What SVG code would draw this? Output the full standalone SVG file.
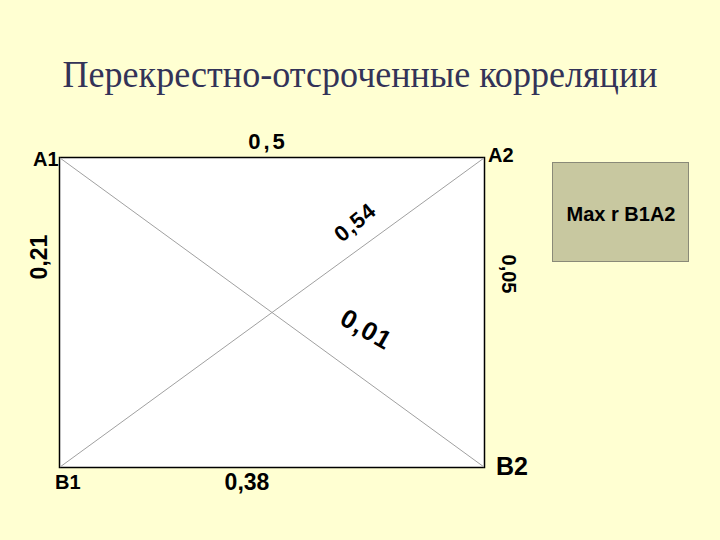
<svg xmlns="http://www.w3.org/2000/svg" width="720" height="540" viewBox="0 0 720 540">
<style>
.lbl{font-family:"Liberation Sans",Arial,sans-serif;font-weight:bold;fill:#000}
.diag{stroke:#a0a0a0;stroke-width:1;fill:none}
</style>
<rect x="0" y="0" width="720" height="540" fill="#ffffd2"/>
<text x="360" y="87" text-anchor="middle" font-family="Liberation Serif,Times New Roman,serif" font-size="37" textLength="595" lengthAdjust="spacingAndGlyphs" fill="#333358">Перекрестно-отсроченные корреляции</text>
<g id="frame">
<rect x="59.5" y="157.5" width="425" height="310" fill="#ffffff" stroke="#000" stroke-width="1.5"/>
</g>
<g id="connectors">
<line class="diag" x1="60" y1="158" x2="484" y2="467"/>
<line class="diag" x1="60" y1="467" x2="484" y2="158"/>
</g>
<g id="A1"><text class="lbl" x="33" y="166" font-size="20">A1</text></g>
<g id="A2"><text class="lbl" x="488" y="162" font-size="20">A2</text></g>
<g id="B1"><text class="lbl" x="55" y="489" font-size="20">B1</text></g>
<g id="B2"><text class="lbl" x="496" y="475" font-size="25">B2</text></g>
<g id="labels">
<text class="lbl" x="268" y="149" font-size="22" text-anchor="middle" letter-spacing="3">0,5</text>
<text class="lbl" x="247" y="490" font-size="23" text-anchor="middle">0,38</text>
<text class="lbl" font-size="23" text-anchor="middle" transform="translate(47,257) rotate(-90)">0,21</text>
<text class="lbl" font-size="20" text-anchor="middle" transform="translate(502,274) rotate(90)">0,05</text>
<text class="lbl" font-size="22" text-anchor="middle" letter-spacing="1" transform="translate(360,228) rotate(-40)">0,54</text>
<text class="lbl" font-size="26" text-anchor="middle" letter-spacing="1" transform="translate(362,337) rotate(30)">0,01</text>
</g>
<g id="maxbox">
<rect x="552.5" y="162.5" width="136" height="99" fill="#c8c8a0" stroke="#8a8a78" stroke-width="1"/>
<text class="lbl" x="621" y="221" font-size="20" text-anchor="middle">Max r B1A2</text>
</g>
</svg>
